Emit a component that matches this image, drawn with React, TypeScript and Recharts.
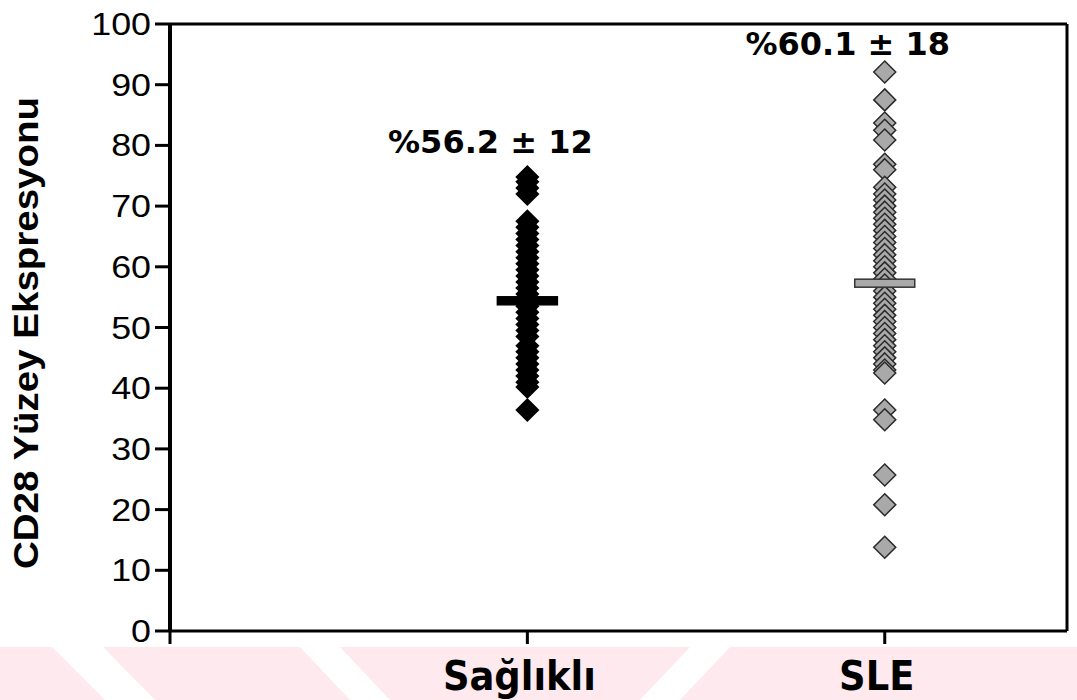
import { ScatterChart, Scatter, XAxis, YAxis, ReferenceLine } from "recharts"

// CD28 surface expression (%), one point per subject
const groups = ["Sağlıklı", "SLE"]
const healthyValues = [
  74.8, 74, 73, 72, 67.5, 66.5, 65.5, 64.5, 63.5, 62.5, 61.5, 60.5, 59.5, 58.5,
  57.5, 56.5, 55.5, 54.5, 53.5, 52.5, 51.5, 50.5, 49.5, 48.5, 47, 46, 45, 44,
  43, 42, 41, 40.2, 36.4,
]
const sleValues = [
  92.1, 87.5, 83.7, 82.5, 80.9, 76.9, 76, 73.1, 72, 71, 70, 69, 68, 67, 66, 65,
  64, 63, 62, 61, 60, 59, 58, 57, 56, 55, 54, 53, 52, 51, 50, 49, 48, 47, 46,
  45, 44, 43, 42.5, 36.4, 34.8, 25.7, 20.8, 13.8,
]
const meanValues = [54.4, 57.3]
const summaryLabels = ["%56.2 ± 12", "%60.1 ± 18"]
const summaryLabelY = [78.7, 94.9]
const yTicks = [0, 10, 20, 30, 40, 50, 60, 70, 80, 90, 100]
const xTicks = [0, 1, 2]
const xMax = 2.51

const healthyData = healthyValues.map((v) => ({ x: 1, y: v }))
const sleData = sleValues.map((v) => ({ x: 2, y: v }))
const meanData = meanValues.map((v, i) => ({ x: i + 1, y: v, group: i }))
const labelData = summaryLabels.map((t, i) => ({ x: i + 1, y: summaryLabelY[i], text: t }))

const diamond = (fill: string, stroke: string) => (props: any) => {
  const { cx, cy } = props
  const w = 11
  const h = 11
  return (
    <polygon
      points={`${cx},${cy - h} ${cx + w},${cy} ${cx},${cy + h} ${cx - w},${cy}`}
      fill={fill}
      stroke={stroke}
      strokeWidth={1.5}
    />
  )
}

const meanBar = (props: any) => {
  const { cx, cy, payload } = props
  const sle = payload.group === 1
  return (
    <rect
      x={cx - 30}
      y={cy - 4}
      width={60}
      height={8}
      fill={sle ? "#a9a9a9" : "#000"}
      stroke={sle ? "#333" : "#000"}
      strokeWidth={1.5}
    />
  )
}

const summaryText = (props: any) => {
  const { cx, cy, payload } = props
  return (
    <text
      x={cx - 37}
      y={cy}
      textAnchor="middle"
      fontFamily="DejaVu Sans"
      fontWeight="bold"
      fontSize={32}
      fill="#000"
    >
      {payload.text}
    </text>
  )
}

const YTick = (props: any) => {
  const { x, y, payload } = props
  return (
    <text
      transform={`translate(${x - 2},${y + 11}) scale(1.12,1)`}
      textAnchor="end"
      fontFamily="Liberation Sans, Arial"
      fontSize={32}
      fill="#000"
    >
      {payload.value}
    </text>
  )
}

const XTick = (props: any) => {
  const { x, y, payload } = props
  if (payload.value === 0) return null
  return (
    <text
      transform={`translate(${x - 8},${y + 44})`}
      textAnchor="middle"
      fontFamily="DejaVu Sans Condensed, DejaVu Sans"
      fontWeight="bold"
      fontSize={41}
      fill="#000"
    >
      {groups[payload.value - 1]}
    </text>
  )
}

function Watermark() {
  const pink = "#fde9ee"
  return (
    <svg width={1077} height={700} style={{ position: "absolute", left: 0, top: 0 }}>
      <polygon points="0,647 52,647 105,700 0,700" fill={pink} />
      <polygon points="103,647 300,647 350,700 155,700" fill={pink} />
      <polygon points="340,647 690,647 640,700 390,700" fill={pink} />
      <polygon points="730,647 1077,647 1077,700 680,700" fill={pink} />
    </svg>
  )
}

export default function App() {
  return (
    <div style={{ position: "absolute", left: 0, top: 0, width: 1077, height: 700, background: "#fff" }}>
      <Watermark />
      <div style={{ position: "absolute", left: 0, top: 0 }}>
        <ScatterChart width={1077} height={700} margin={{ top: 24, right: 10, bottom: 0, left: 0 }}>
          <XAxis
            dataKey="x"
            type="number"
            domain={[0, xMax]}
            ticks={xTicks}
            interval={0}
            tick={<XTick />}
            tickSize={13}
            tickLine={{ stroke: "#000", strokeWidth: 3 }}
            axisLine={{ stroke: "#000", strokeWidth: 3 }}
            height={69}
            allowDataOverflow
          />
          <YAxis
            dataKey="y"
            type="number"
            domain={[0, 100]}
            ticks={yTicks}
            interval={0}
            tick={<YTick />}
            tickSize={15}
            tickLine={{ stroke: "#000", strokeWidth: 3 }}
            axisLine={{ stroke: "#000", strokeWidth: 4 }}
            width={170}
            label={{
              content: () => (
                <text
                  transform="translate(38,333) rotate(-90) scale(1.1,1)"
                  textAnchor="middle"
                  fontFamily="Liberation Sans, Arial"
                  fontWeight="bold"
                  fontSize={35}
                  fill="#000"
                >
                  CD28 Yüzey Ekspresyonu
                </text>
              ),
            }}
          />
          <ReferenceLine y={100} stroke="#000" strokeWidth={3} />
          <ReferenceLine x={xMax} stroke="#000" strokeWidth={3} />
          <Scatter data={healthyData} shape={diamond("#000", "#000")} isAnimationActive={false} />
          <Scatter data={sleData} shape={diamond("#a9a9a9", "#2a2a2a")} isAnimationActive={false} />
          <Scatter data={meanData} shape={meanBar} isAnimationActive={false} />
          <Scatter data={labelData} shape={summaryText} isAnimationActive={false} />
        </ScatterChart>
      </div>
    </div>
  )
}
